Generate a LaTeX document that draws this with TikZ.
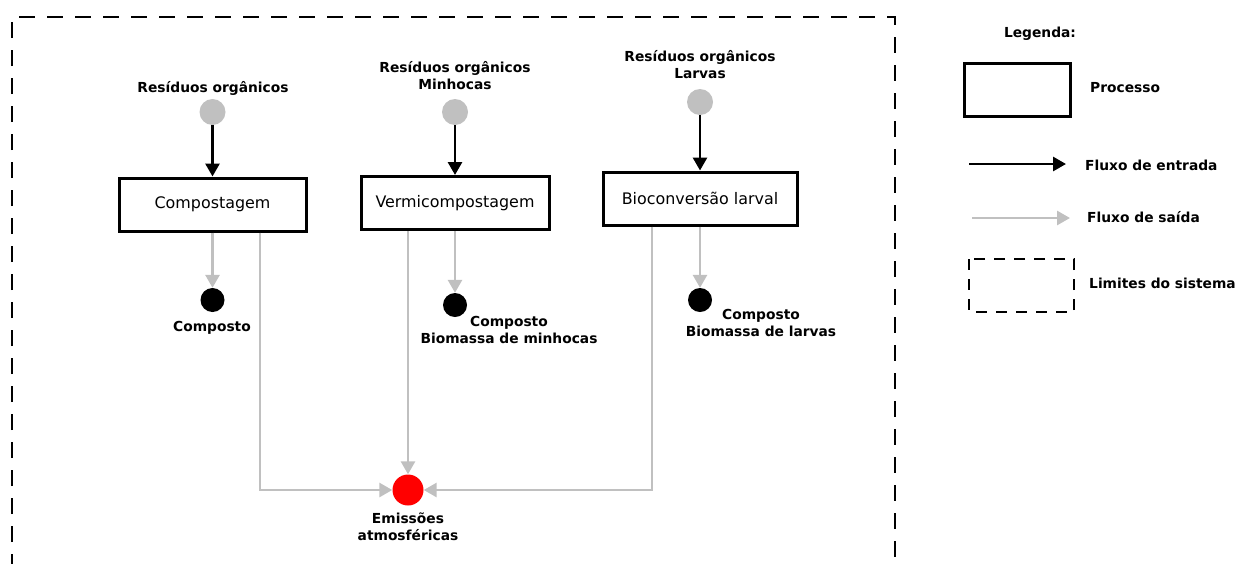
\documentclass[tikz,border=0pt]{standalone}
\usepackage{fontspec}
\setmainfont{DejaVu Sans}
\usetikzlibrary{arrows.meta}
\definecolor{lgray}{RGB}{192,192,192}
\definecolor{lred}{RGB}{255,0,0}
\begin{document}
\begin{tikzpicture}[x=1pt,y=-1pt,
  lbl/.style={font=\fontsize{13.8}{17}\selectfont\bfseries,align=center,inner sep=0pt},
  proc/.style={draw,line width=3pt,minimum height=53pt,font=\fontsize{15.9}{18}\selectfont,inner sep=0pt},
  indot/.style={circle,fill=lgray,minimum size=26pt,inner sep=0pt},
  outdot/.style={circle,fill=black,minimum size=24pt,inner sep=0pt},
  emdot/.style={circle,fill=lred,minimum size=31pt,inner sep=0pt},
  inflow/.style={line width=2.8pt,-{Triangle[length=13pt,width=14pt]}},
  outflow/.style={lgray,line width=2.8pt,-{Triangle[length=13pt,width=14pt]}},
  bound/.style={line width=2.8pt,dash pattern=on 16pt off 12pt}]
\useasboundingbox (0,0) rectangle (1239,563);
% system boundary
\draw[bound] (12,570) -- (12,17) -- (895,17) -- (895,570);
% process 1
\node[lbl] (r1) at (213,88) {Resíduos orgânicos};
\node[indot] (i1) at (212.5,112) {};
\node[proc,minimum width=187pt] (p1) at (212.5,204.5) {Compostagem};
\node[outdot] (o1) at (212.5,300) {};
\node[lbl] (c1) at (212,328) {Composto};
% process 2
\node[lbl] (r2) at (455,76) {Resíduos orgânicos\\Minhocas};
\node[indot] (i2) at (455,112) {};
\node[proc,minimum width=188pt] (p2) at (455,203) {Vermicompostagem};
\node[outdot] (o2) at (455,305) {};
\node[lbl] (c2) at (509,330) {Composto\\Biomassa de minhocas};
% process 3
\node[lbl] (r3) at (700,65) {Resíduos orgânicos\\Larvas};
\node[indot] (i3) at (700,102) {};
\node[proc,minimum width=194pt] (p3) at (700,198.5) {Bioconversão larval};
\node[outdot] (o3) at (700,300) {};
\node[lbl] (c3) at (761,323) {Composto\\Biomassa de larvas};
% emissions
\node[emdot] (em) at (408,490) {};
\node[lbl] (el) at (408,527) {Emissões\\atmosféricas};
% input flows
\draw[inflow] (i1) -- (p1);
\draw[inflow] (i2) -- (p2);
\draw[inflow] (i3) -- (p3);
% output flows
\draw[outflow] (p1.south) -- (o1);
\draw[outflow] (p2.south) -- (o2);
\draw[outflow] (p3.south) -- (o3);
\draw[outflow] (p1.south -| 260,0) |- (em.west);
\draw[outflow] (p2.south -| em.north) -- (em.north);
\draw[outflow] (p3.south -| 652,0) |- (em.east);
% legend
\node[lbl] (lg) at (1040,34) {Legenda:};
\node[draw,line width=3pt,minimum width=106pt,minimum height=53pt,inner sep=0pt] (lp) at (1017,89.5) {};
\node[lbl,anchor=west] (lpt) at (1090,88) {Processo};
\coordinate (la1) at (969,164);
\coordinate (la2) at (1066,164);
\draw[inflow] (la1) -- (la2);
\node[lbl,anchor=west] (lat) at (1085,165) {Fluxo de entrada};
\coordinate (lb1) at (972,218);
\coordinate (lb2) at (1070,218);
\draw[outflow] (lb1) -- (lb2);
\node[lbl,anchor=west] (lbt) at (1087,217) {Fluxo de saída};
\draw[line width=2.8pt,dash pattern=on 11pt off 9pt] (969,259) rectangle (1074,312);
\node[lbl,anchor=west] (lct) at (1089,283) {Limites do sistema};
\end{tikzpicture}
\end{document}
